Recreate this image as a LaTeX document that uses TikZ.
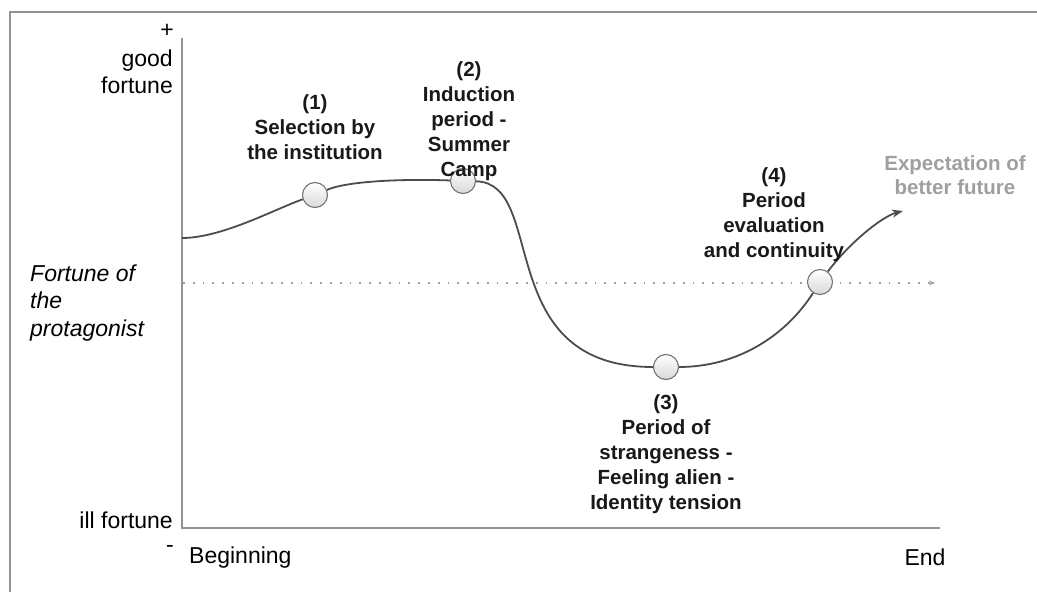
\documentclass[tikz,border=0pt]{standalone}
\usepackage{fontspec}
\setmainfont{Liberation Sans}
\usetikzlibrary{positioning,arrows.meta}

\begin{document}
\begin{tikzpicture}[x=1pt,y=1pt,on grid,
    axisline/.style={draw=gray!85,line width=1.5pt},
    arcline/.style={draw=black!70,line width=1.8pt},
    stage/.style={circle,draw=black!55,line width=1.1pt,top color=white,bottom color=gray!30,minimum size=25pt,inner sep=0pt},
    lbl/.style={align=center,font=\fontsize{20.5}{25}\selectfont\bfseries,text=black!90},
    axlbl/.style={inner sep=0pt,font=\fontsize{23}{27}\selectfont}]
  \useasboundingbox (0,0) rectangle (1037,592);
  \draw[axisline] (10,0) -- (10,580) -- (1037,580);
  \coordinate (o) at (182,64);
  \coordinate (ytop) at (182,554);
  \coordinate (xend) at (940,64);
  \draw[axisline] (ytop) -- (o) -- (xend);
  \coordinate (mid0) at (183,309);
  \coordinate (mid1) at (935,309);
  \draw[gray!75,line width=1.5pt,dash pattern=on 1.8pt off 8pt,-{Stealth[length=6pt,width=5pt]}] (mid0) -- (mid1);
  \node[axlbl] (plus) at (167,561) {+};
  \node[axlbl,anchor=east,align=right] (good) at (173,520) {good\\fortune};
  \node[axlbl,anchor=east] (ill) at (173,72) {ill fortune};
  \node[axlbl] (minus) at (170,43) {-};
  \node[axlbl,anchor=west] (beg) at (189,34) {Beginning};
  \node[axlbl] (end) at (925,35) {End};
  \node[axlbl,anchor=west,align=left,font=\fontsize{23}{27.5}\selectfont\itshape] (who) at (30,289) {Fortune of\\the\\protagonist};
  \coordinate (s0) at (182,354);
  \coordinate (tip) at (903,381);
  \node[stage] (n1) at (315,397) {};
  \node[stage] (n2) at (463,411) {};
  \node[stage] (n3) at (666,225) {};
  \node[stage] (n4) at (820,310) {};
  \draw[arcline] (s0) .. controls +(40,0) and +(-40,-14) .. (n1);
  \draw[arcline] (n1) .. controls +(35,15) and +(-50,2) .. (n2);
  \draw[arcline] (n2) .. controls +(85,-2) and +(-175,0) .. (n3);
  \draw[arcline] (n3) .. controls +(70,0) and +(-35,-55) .. (n4);
  \draw[arcline,-{Stealth[length=11pt,width=8pt]}] (n4) .. controls +(30,40) and +(-20,-5) .. (tip);
  \node[lbl,above=68pt of n1] (l1) {(1)\\Selection by\\the institution};
  \node[lbl,above right=60pt and 6pt of n2] (l2) {(2)\\Induction\\period -\\Summer\\Camp};
  \node[lbl,below=87pt of n3] (l3) {(3)\\Period of\\strangeness -\\Feeling alien -\\Identity tension};
  \node[lbl,above left=67pt and 46pt of n4] (l4) {(4)\\Period\\evaluation\\and continuity};
  \node[lbl,text=gray!75,font=\fontsize{20.5}{24}\selectfont\bfseries,above right=36pt and 52pt of tip,anchor=center] (hope) {Expectation of\\better future};
\end{tikzpicture}
\end{document}
